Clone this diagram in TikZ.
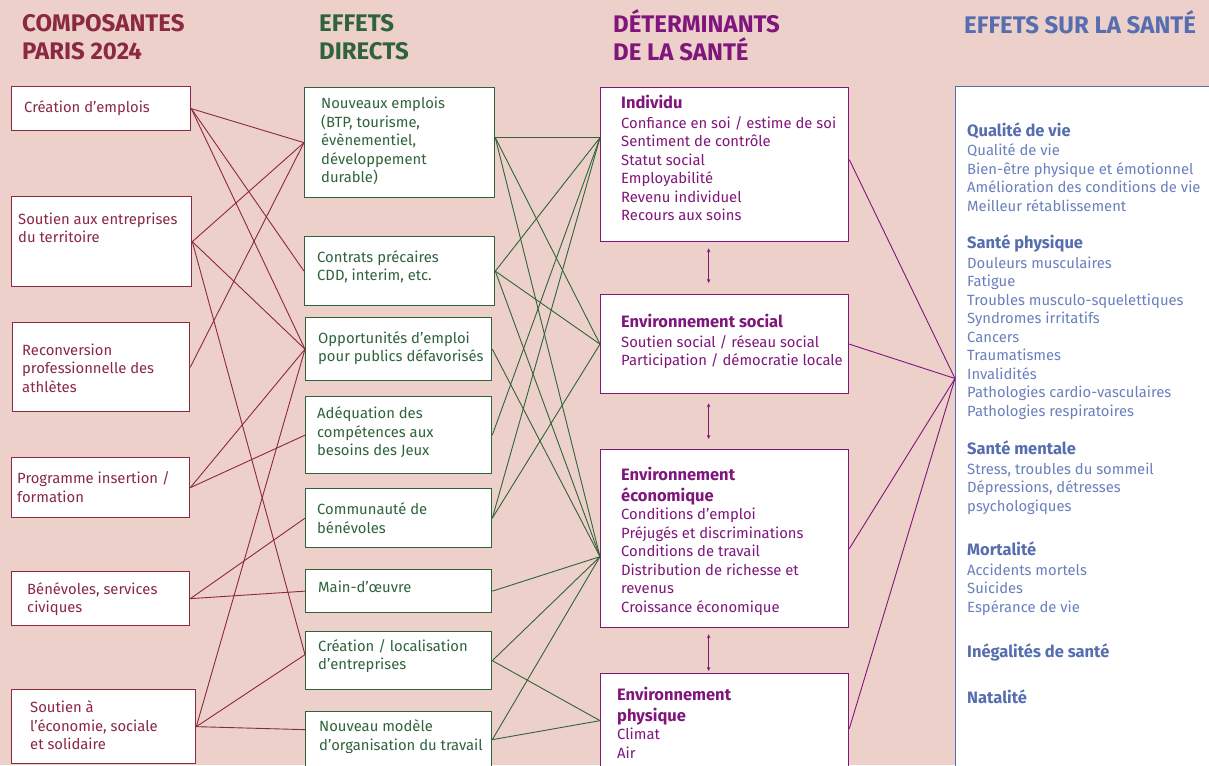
\documentclass[tikz,border=0pt]{standalone}
\usepackage{fontspec}
\setmainfont{Fira Sans}
\usepackage{tikz}
\usetikzlibrary{arrows.meta, calc, positioning}

\definecolor{bgpink}{RGB}{237,208,202}
\definecolor{compred}{RGB}{139,40,66}
\definecolor{effgreen}{RGB}{47,99,60}
\definecolor{detpurple}{RGB}{128,22,124}
\definecolor{santeblue}{RGB}{86,110,176}
\definecolor{itemblue}{RGB}{106,128,190}

\newcommand{\ehead}{\fontsize{16.5}{20}\selectfont\bfseries}

\begin{document}
\begin{tikzpicture}[x=1pt, y=-1pt,
  head/.style={font=\fontsize{24}{27.5}\selectfont\bfseries, anchor=west, align=left, inner sep=0},
  cbox/.style={draw=compred, line width=1.3pt, fill=white, anchor=north west, inner sep=0},
  dbox/.style={draw=effgreen, line width=1.3pt, fill=white, anchor=north west, inner sep=0},
  ebox/.style={draw=detpurple, line width=1.3pt, fill=white, anchor=north west, inner sep=0},
  fbox/.style={draw=santeblue, line width=1pt, fill=white, anchor=north west, inner sep=0},
  ctext/.style={text=compred, font=\fontsize{14.8}{18.5}\selectfont, anchor=west, align=left, inner sep=0},
  dtext/.style={text=effgreen, font=\fontsize{14.8}{18.5}\selectfont, anchor=west, align=left, inner sep=0},
  etext/.style={text=detpurple, font=\fontsize{14.8}{18.5}\selectfont, anchor=west, align=left, inner sep=0},
  ftext/.style={text=itemblue, font=\fontsize{14.8}{18.5}\selectfont, anchor=west, align=left, inner sep=0},
  cline/.style={compred, line width=0.9pt},
  dline/.style={effgreen, line width=0.9pt},
  eline/.style={detpurple, line width=0.9pt},
  linkarrow/.style={detpurple, line width=0.9pt, {Stealth[length=4pt,width=3.5pt]}-{Stealth[length=4pt,width=3.5pt]}}
]
\useasboundingbox (0,0) rectangle (1209,765);
\clip (0,0) rectangle (1209,765);

% Background
\fill[bgpink] (0,0) rectangle (1209,765);

% Headers
\node[head, text=compred] (hcomp) at (22,37) {COMPOSANTES\\PARIS 2024};
\node[head, text=effgreen] (heff) at (319,37) {EFFETS\\DIRECTS};
\node[head, text=detpurple] (hdet) at (613,35) {DÉTERMINANTS\\DE LA SANTÉ};
\node[head, text=santeblue] (hsante) at (964,22) {EFFETS SUR LA SANTÉ};

% Composantes Paris 2024
\node[cbox, minimum width=179pt, minimum height=44pt] (c1) at (11,86) {};
\node[cbox, minimum width=180pt, minimum height=90pt] (c2) at (11,196) {};
\node[cbox, minimum width=177pt, minimum height=89pt] (c3) at (12,322) {};
\node[cbox, minimum width=178pt, minimum height=60pt] (c4) at (11,457) {};
\node[cbox, minimum width=178pt, minimum height=54pt] (c5) at (11,571) {};
\node[cbox, minimum width=184pt, minimum height=74pt] (c6) at (11,689) {};

\node[ctext] (c1txt) at (24,108) {Création d’emplois};
\node[ctext] (c2txt) at (18,228) {Soutien aux entreprises\\du territoire};
\node[ctext] (c3txt) at (22,368) {Reconversion\\professionnelle des\\athlètes};
\node[ctext] (c4txt) at (17,487) {Programme insertion /\\formation};
\node[ctext] (c5txt) at (27,599) {Bénévoles, services\\civiques};
\node[ctext] (c6txt) at (30,725.5) {Soutien à\\l’économie, sociale\\et solidaire};

% Effets directs
\node[dbox, minimum width=190pt, minimum height=110pt] (d1) at (304,87) {};
\node[dbox, minimum width=190pt, minimum height=69pt] (d2) at (304,236) {};
\node[dbox, minimum width=186pt, minimum height=63pt] (d3) at (305,317) {};
\node[dbox, minimum width=186pt, minimum height=77pt] (d4) at (305,396) {};
\node[dbox, minimum width=186pt, minimum height=59pt] (d5) at (305,488) {};
\node[dbox, minimum width=186pt, minimum height=43pt] (d6) at (305,569) {};
\node[dbox, minimum width=186pt, minimum height=58pt] (d7) at (305,631) {};
\node[dbox, minimum width=186pt, minimum height=56pt] (d8) at (305,711) {};

\node[dtext] (d1txt) at (321,141) {Nouveaux emplois\\(BTP, tourisme,\\évènementiel,\\développement\\durable)};
\node[dtext] (d2txt) at (317,267) {Contrats précaires\\CDD, interim, etc.};
\node[dtext] (d3txt) at (318,348) {Opportunités d’emploi\\pour publics défavorisés};
\node[dtext] (d4txt) at (317,432.5) {Adéquation des\\compétences aux\\besoins des Jeux};
\node[dtext] (d5txt) at (317,518) {Communauté de\\bénévoles};
\node[dtext] (d6txt) at (318,587) {Main-d’œuvre};
\node[dtext] (d7txt) at (318,656) {Création / localisation\\d’entreprises};
\node[dtext] (d8txt) at (319,736.5) {Nouveau modèle\\d’organisation du travail};

% Déterminants de la santé
\node[ebox, minimum width=248pt, minimum height=154pt] (e1) at (600,87) {};
\node[ebox, minimum width=248pt, minimum height=99pt] (e2) at (600,294) {};
\node[ebox, minimum width=248pt, minimum height=178pt] (e3) at (600,449) {};
\node[ebox, minimum width=248pt, minimum height=110pt] (e4) at (600,673) {};

\node[etext] (e1txt) at (621,158) {{\ehead Individu}\\[1pt]Confiance en soi / estime de soi\\Sentiment de contrôle\\Statut social\\Employabilité\\Revenu individuel\\Recours aux soins};
\node[etext] (e2txt) at (621,341.5) {{\ehead Environnement social}\\[1pt]Soutien social / réseau social\\Participation / démocratie locale};
\node[etext] (e3txt) at (621,541.5) {{\ehead Environnement}\\[2pt]{\ehead économique}\\Conditions d’emploi\\Préjugés et discriminations\\Conditions de travail\\Distribution de richesse et\\revenus\\Croissance économique};
\node[etext] (e4txt) at (617,723) {{\ehead Environnement}\\[2pt]{\ehead physique}\\Climat\\Air};

% Effets sur la santé
\node[fbox, minimum width=270pt, minimum height=700pt] (f) at (955,86) {};

\node[ftext] (f1txt) at (967,167) {{\ehead\color{santeblue}Qualité de vie}\\[1pt]Qualité de vie\\Bien-être physique et émotionnel\\Amélioration des conditions de vie\\Meilleur rétablissement};
\node[ftext] (f2txt) at (967,327) {{\ehead\color{santeblue}Santé physique}\\[1pt]Douleurs musculaires\\Fatigue\\Troubles musculo-squelettiques\\Syndromes irritatifs\\Cancers\\Traumatismes\\Invalidités\\Pathologies cardio-vasculaires\\Pathologies respiratoires};
\node[ftext] (f3txt) at (967,477.5) {{\ehead\color{santeblue}Santé mentale}\\[1pt]Stress, troubles du sommeil\\Dépressions, détresses\\psychologiques};
\node[ftext] (f4txt) at (967,578.5) {{\ehead\color{santeblue}Mortalité}\\[1pt]Accidents mortels\\Suicides\\Espérance de vie};
\node[ftext] (f5txt) at (967,652) {{\ehead\color{santeblue}Inégalités de santé}};
\node[ftext] (f6txt) at (967,697) {{\ehead\color{santeblue}Natalité}};

% Anchor points off the box centres
\coordinate (d1out) at ([yshift=5pt]d1.east);
\coordinate (d7in) at ([yshift=6pt]d7.west);
\coordinate (d8in) at ([yshift=10pt]d8.west);
\coordinate (e1in) at ([yshift=27pt]e1.west);
\coordinate (e1out) at ([yshift=5pt]e1.east);
\coordinate (e3in) at ([yshift=-18pt]e3.west);
\coordinate (e3out) at ([yshift=-10pt]e3.east);
\coordinate (e4in) at ([yshift=8pt]e4.west);
\coordinate (fin) at ([yshift=58pt]f.west);

% Composantes -> effets directs
\draw[cline] (c1.east) -- (d1.west);
\draw[cline] (c1.east) -- (d2.west);
\draw[cline] (c1.east) -- (d3.west);
\draw[cline] (c2.east) -- (d1.west);
\draw[cline] (c2.east) -- (d3.west);
\draw[cline] (c2.east) -- (d7in);
\draw[cline] (c3.east) -- (d1.west);
\draw[cline] (c4.east) -- (d3.west);
\draw[cline] (c4.east) -- (d4.west);
\draw[cline] (c5.east) -- (d5.west);
\draw[cline] (c5.east) -- (d6.west);
\draw[cline] (c6.east) -- (d3.west);
\draw[cline] (c6.east) -- (d7in);
\draw[cline] (c6.east) -- (d8in);

% Effets directs -> determinants
\draw[dline] (d1out) -- (e1in);
\draw[dline] (d1out) -- (e2.west);
\draw[dline] (d1out) -- (e3in);
\draw[dline] (d2.east) -- (e1in);
\draw[dline] (d2.east) -- (e2.west);
\draw[dline] (d2.east) -- (e3in);
\draw[dline] (d3.east) -- (e3in);
\draw[dline] (d4.east) -- (e1in);
\draw[dline] (d5.east) -- (e1in);
\draw[dline] (d5.east) -- (e2.west);
\draw[dline] (d6.east) -- (e3in);
\draw[dline] (d7.east) -- (e3in);
\draw[dline] (d7.east) -- (e4in);
\draw[dline] (d8.east) -- (e3in);
\draw[dline] (d8.east) -- (e4in);

% Determinants -> effets sur la sante
\draw[eline] (e1out) -- (fin);
\draw[eline] (e2.east) -- (fin);
\draw[eline] (e3out) -- (fin);
\draw[eline] (e4.east) -- (fin);

% Links between determinants
\draw[linkarrow] ([xshift=-16pt,yshift=-6pt]e1.south) -- ([xshift=-16pt,yshift=11pt]e2.north);
\draw[linkarrow] ([xshift=-16pt,yshift=-9pt]e2.south) -- ([xshift=-16pt,yshift=10pt]e3.north);
\draw[linkarrow] ([xshift=-16pt,yshift=-6pt]e3.south) -- ([xshift=-16pt,yshift=2pt]e4.north);
\end{tikzpicture}
\end{document}
